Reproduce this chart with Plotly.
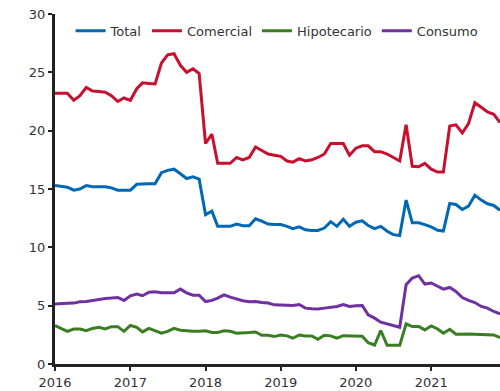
import pandas as pd
import plotly.graph_objects as go

months = pd.date_range("2016-01-01", "2021-12-01", freq="MS")

total = [15.3, 15.2, 15.15, 14.9, 15.0, 15.3, 15.2, 15.2, 15.2, 15.1, 14.9, 14.9,
         14.9, 15.4, 15.45, 15.45, 15.45, 16.4, 16.6, 16.7, 16.3, 15.9, 16.05, 15.85,
         12.8, 13.1, 11.8, 11.8, 11.8, 12.0, 11.85, 11.85, 12.45, 12.25, 12.0, 11.95,
         11.95, 11.8, 11.6, 11.75, 11.5, 11.45, 11.45, 11.65, 12.2, 11.8, 12.4, 11.8,
         12.15, 12.27, 11.87, 11.61, 11.8, 11.38, 11.09, 11.01, 14.05, 12.1, 12.1, 11.95,
         11.75, 11.46, 11.4, 13.76, 13.67, 13.24, 13.53, 14.47, 14.05, 13.73, 13.59, 13.18]

comercial = [23.2, 23.2, 23.2, 22.6, 23.0, 23.7, 23.4, 23.35, 23.3, 23.0, 22.5, 22.8,
             22.6, 23.6, 24.1, 24.05, 24.0, 25.8, 26.5, 26.6, 25.6, 25.0, 25.3, 24.9,
             18.9, 19.7, 17.2, 17.2, 17.2, 17.7, 17.5, 17.7, 18.6, 18.3, 18.0, 17.9,
             17.8, 17.4, 17.3, 17.6, 17.4, 17.5, 17.7, 18.0, 18.9, 18.9, 18.9, 17.9,
             18.5, 18.7, 18.7, 18.2, 18.2, 18.0, 17.7, 17.4, 20.5, 16.95, 16.9, 17.2,
             16.7, 16.45, 16.45, 20.4, 20.5, 19.8, 20.6, 22.4, 22.0, 21.6, 21.4, 20.7]

hipotecario = [3.3, 3.05, 2.8, 3.0, 3.0, 2.85, 3.05, 3.15, 3.0, 3.2, 3.2, 2.8,
               3.3, 3.15, 2.75, 3.05, 2.85, 2.65, 2.8, 3.05, 2.9, 2.82, 2.8, 2.8,
               2.84, 2.7, 2.7, 2.84, 2.81, 2.64, 2.64, 2.7, 2.75, 2.46, 2.46, 2.35,
               2.49, 2.41, 2.21, 2.49, 2.41, 2.41, 2.12, 2.46, 2.41, 2.21, 2.43, 2.41,
               2.41, 2.38, 1.83, 1.63, 2.87, 1.6, 1.6, 1.6, 3.44, 3.21, 3.21, 2.92,
               3.27, 3.0, 2.64, 2.98, 2.55, 2.58, 2.58, 2.55, 2.52, 2.52, 2.49, 2.26]

consumo = [5.15, 5.2, 5.2, 5.22, 5.33, 5.36, 5.45, 5.56, 5.62, 5.65, 5.7, 5.45,
           5.85, 6.0, 5.85, 6.15, 6.2, 6.1, 6.1, 6.1, 6.42, 6.1, 5.9, 5.9,
           5.35, 5.45, 5.65, 5.93, 5.73, 5.56, 5.42, 5.33, 5.36, 5.27, 5.22, 5.07,
           5.04, 5.04, 5.02, 5.1, 4.79, 4.73, 4.71, 4.79, 4.87, 4.93, 5.1, 4.93,
           5.0, 5.02, 4.21, 3.93, 3.58, 3.44, 3.27, 3.15, 6.79, 7.37, 7.57, 6.85,
           6.94, 6.65, 6.42, 6.56, 6.22, 5.7, 5.45, 5.27, 4.93, 4.79, 4.5, 4.3]

series = [("Total", total, "#0068B4"),
          ("Comercial", comercial, "#C8102E"),
          ("Hipotecario", hipotecario, "#3A7D22"),
          ("Consumo", consumo, "#7030A0")]

fig = go.Figure()
for name, vals, color in series:
    fig.add_trace(go.Scatter(x=months, y=vals, name=name, mode="lines",
                             line=dict(color=color, width=3)))

font = "DejaVu Sans"
fig.update_layout(
    width=500, height=391,
    margin=dict(l=55, r=0, t=14, b=27),
    paper_bgcolor="white", plot_bgcolor="white",
    font=dict(family=font, size=13, color="#333333"),
    showlegend=True,
    legend=dict(orientation="h", x=0.035, xanchor="left", y=0.952, yanchor="middle",
                bgcolor="rgba(0,0,0,0)", font=dict(size=13, color="#333333"),
                itemwidth=30, tracegroupgap=0),
)
fig.update_xaxes(
    range=["2016-01-01", "2021-12-01"],
    tickvals=pd.to_datetime(["2016-01-01", "2017-01-01", "2018-01-01",
                             "2019-01-01", "2020-01-01", "2021-01-01"]),
    ticktext=["2016", "2017", "2018", "2019", "2020", "2021"],
    showline=True, linecolor="#222222", linewidth=3,
    ticks="outside", ticklen=4, tickwidth=2, tickcolor="#222222",
    showgrid=False, zeroline=False,
)
fig.update_yaxes(
    range=[0, 30], tickvals=[0, 5, 10, 15, 20, 25, 30],
    showline=True, linecolor="#222222", linewidth=3,
    ticks="outside", ticklen=4, tickwidth=2, tickcolor="#222222",
    showgrid=False, zeroline=False,
)

fig.write_html("out.html")
